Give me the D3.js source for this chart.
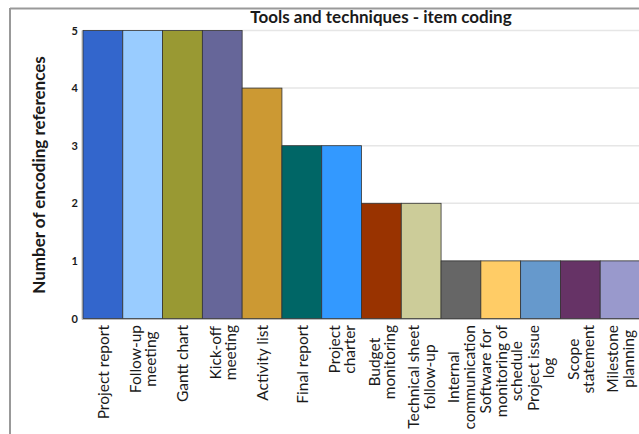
<!DOCTYPE html>
<html lang="en">
<head>
<meta charset="utf-8">
<title>Tools and techniques - item coding</title>
<script src="https://cdn.jsdelivr.net/npm/d3@7"></script>
<style>
  body { margin: 0; background: #fff; }
  text { font-family: Lato, "Liberation Sans", sans-serif; fill: #1a1a1a; }
</style>
</head>
<body>
<script>
// chart data
var labels = [
  ["Project report"],
  ["Follow-up", "meeting"],
  ["Gantt chart"],
  ["Kick-off", "meeting"],
  ["Activity list"],
  ["Final report"],
  ["Project", "charter"],
  ["Budget", "monitoring"],
  ["Technical sheet", "follow-up"],
  ["Internal", "communication"],
  ["Software for", "monitoring of", "schedule"],
  ["Project issue", "log"],
  ["Scope", "statement"],
  ["Milestone", "planning"]
];
var counts = [5, 5, 5, 5, 4, 3, 3, 2, 2, 1, 1, 1, 1, 1];
var colors = ["#3366cc", "#99ccff", "#999933", "#666699", "#cc9933", "#006666", "#3399ff",
              "#993300", "#cccc99", "#666666", "#ffcc66", "#6699cc", "#663366", "#9999cc"];
var yTicks = [0, 1, 2, 3, 4, 5];

var w = 639, h = 434;
var plotLeft = 83, plotRight = 640, plotTop = 30.5, plotBottom = 318.5;

var svg = d3.select("body").append("svg")
    .attr("width", w)
    .attr("height", h);

// outer frame
svg.append("line").attr("x1", 10).attr("x2", w).attr("y1", 8.5).attr("y2", 8.5)
    .attr("stroke", "#999").attr("stroke-width", 2);
svg.append("line").attr("x1", 10).attr("x2", 10).attr("y1", 8).attr("y2", h)
    .attr("stroke", "#999").attr("stroke-width", 2);

var xScale = d3.scaleBand()
    .domain(d3.range(counts.length))
    .range([plotLeft, plotRight])
    .padding(0);

var yScale = d3.scaleLinear()
    .domain([0, 5])
    .range([plotBottom, plotTop]);

// gridlines
svg.selectAll(".grid")
    .data(yTicks)
    .enter()
    .append("line")
    .attr("x1", plotLeft).attr("x2", w)
    .attr("y1", function(d) { return yScale(d); })
    .attr("y2", function(d) { return yScale(d); })
    .attr("stroke", "#e6e6e6")
    .attr("stroke-width", 1.5);

// axis lines
svg.append("line").attr("x1", plotLeft - 1).attr("x2", plotLeft - 1).attr("y1", plotTop).attr("y2", plotBottom + 1)
    .attr("stroke", "#bbb");
svg.append("line").attr("x1", plotLeft - 1).attr("x2", w).attr("y1", plotBottom + 1).attr("y2", plotBottom + 1)
    .attr("stroke", "#bbb");

// bars
svg.selectAll("rect.bar")
    .data(counts)
    .enter()
    .append("rect")
    .attr("class", "bar")
    .attr("x", function(d, i) { return xScale(i); })
    .attr("y", function(d) { return yScale(d); })
    .attr("width", xScale.bandwidth())
    .attr("height", function(d) { return yScale(0) - yScale(d); })
    .attr("fill", function(d, i) { return colors[i]; })
    .attr("stroke", "#333")
    .attr("stroke-width", 0.8);

// y axis
var yAxis = d3.axisLeft(yScale).tickValues(yTicks).tickSize(0).tickPadding(4).tickFormat(d3.format("d"));
var gy = svg.append("g")
    .attr("transform", "translate(" + (plotLeft - 1) + ",0)")
    .call(yAxis);
gy.select(".domain").remove();
gy.selectAll("text")
    .style("font-size", "11px")
    .style("font-weight", "bold")
    .style("font-family", "Lato, sans-serif")
    .attr("fill", "#1a1a1a");

// x labels, rotated, lines stacked left to right
var lineGap = 15.5;
labels.forEach(function(lines, i) {
  var cx = xScale(i) + xScale.bandwidth() / 2;
  var g = svg.append("g");
  var texts = lines.map(function(s, j) {
    return g.append("text")
      .text(s)
      .attr("text-anchor", "middle")
      .attr("font-size", "15.5px");
  });
  var maxLen = d3.max(texts, function(t) { return t.node().getComputedTextLength(); });
  var cy = 325 + maxLen / 2;
  texts.forEach(function(t, j) {
    var x = cx + (j - (lines.length - 1) / 2) * lineGap + 6;
    t.attr("transform", "translate(" + x + "," + cy + ") rotate(-90)");
  });
});

// y axis title
svg.append("text")
    .text("Number of encoding references")
    .attr("transform", "translate(45," + 175 + ") rotate(-90)")
    .attr("text-anchor", "middle")
    .attr("font-size", "17px")
    .attr("font-weight", "bold");

// title
svg.append("text")
    .text("Tools and techniques - item coding")
    .attr("x", 381)
    .attr("y", 23)
    .attr("text-anchor", "middle")
    .attr("font-size", "17px")
    .attr("font-weight", "bold");
</script>
</body>
</html>
